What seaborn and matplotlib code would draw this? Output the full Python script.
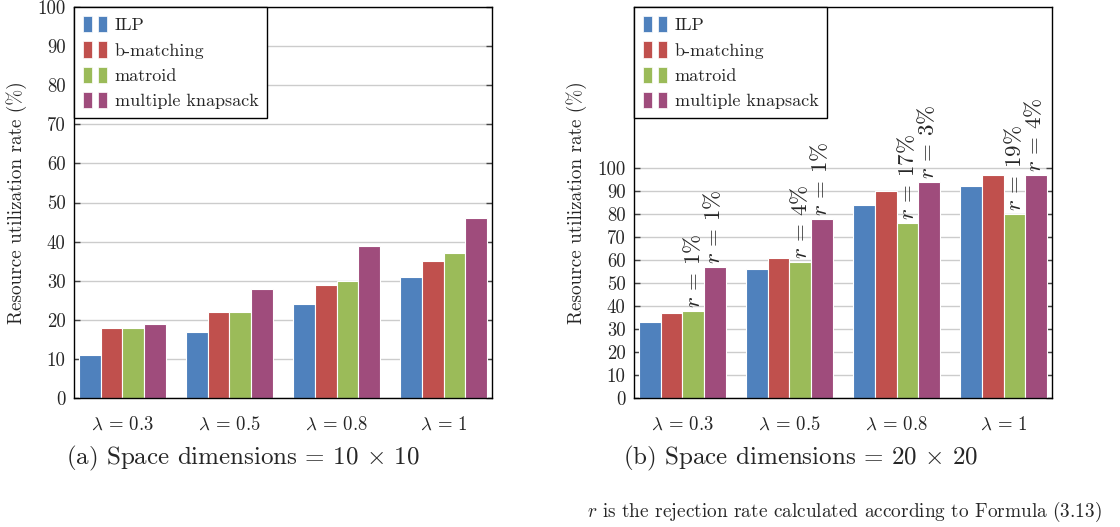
import matplotlib
matplotlib.use("Agg")
import matplotlib.pyplot as plt
import seaborn as sns
import pandas as pd
from matplotlib.patches import Rectangle
from matplotlib.legend_handler import HandlerTuple

# ---------------- data ----------------
groups = [r"$\lambda$ = 0.3", r"$\lambda$ = 0.5", r"$\lambda$ = 0.8", r"$\lambda$ = 1"]
methods = ["ILP", "b-matching", "matroid", "multiple knapsack"]

left_ilp = [11, 17, 24, 31]
left_bmatch = [18, 22, 29, 35]
left_matroid = [18, 22, 30, 37]
left_knap = [19, 28, 39, 46]

right_ilp = [33, 56, 84, 92]
right_bmatch = [37, 61, 90, 97]
right_matroid = [38, 59, 76, 80]
right_knap = [57, 78, 94, 97]

rej_matroid = ["1", "4", "17", "19"]
rej_knap = ["1", "1", "3", "4"]

colors = ["#4F81BD", "#C0504D", "#9BBB59", "#9F4C7C"]

sns.set_style("white")
plt.rcParams["font.family"] = ["cmr10", "DejaVu Serif"]
plt.rcParams["mathtext.fontset"] = "cm"
plt.rcParams["axes.unicode_minus"] = False


def long_df(series):
    rows = []
    for m, vals in zip(methods, series):
        for g, v in zip(groups, vals):
            rows.append({"group": g, "method": m, "value": v})
    return pd.DataFrame(rows)


fig = plt.figure(figsize=(11.2, 5.27), dpi=100)
W, H = 1120, 527
ax_l = fig.add_axes([74 / W, (H - 398) / H, 418 / W, 391 / H])
ax_r = fig.add_axes([634 / W, (H - 398) / H, 418 / W, 391 / H])


def style_axes(ax, df, ymax, yticks):
    sns.barplot(data=df, x="group", y="value", hue="method", palette=colors,
                ax=ax, width=0.81, edgecolor="white", linewidth=0.8,
                saturation=1, legend=False)
    ax.set_ylim(0, ymax)
    ax.set_xlim(-0.45, 3.45)
    ax.set_yticks(yticks)
    ax.set_xlabel("")
    ax.set_ylabel("Resource utilization rate (%)", fontsize=13.8)
    ax.yaxis.set_label_coords((27 - 74) / 418, (397 - 202) / 391)
    ax.yaxis.grid(True, color="#cccccc", linewidth=1.0)
    ax.set_axisbelow(True)
    for s in ax.spines.values():
        s.set_visible(True)
        s.set_color("black")
        s.set_linewidth(1.0)
    ax.tick_params(axis="y", direction="in", length=4, width=1, color="#444444",
                   labelsize=13.5, pad=6, left=True, right=True)
    ax.tick_params(axis="x", length=0, labelsize=13.5, pad=13)
    handles = [(Rectangle((0, 0), 1, 1, facecolor=c, edgecolor="white", lw=0.5),
                Rectangle((0, 0), 1, 1, facecolor=c, edgecolor="white", lw=0.5))
               for c in colors]
    leg = ax.legend(handles, methods, loc="upper left", bbox_to_anchor=(0, 1),
                    borderaxespad=0, fontsize=13, frameon=True, fancybox=False,
                    framealpha=1, edgecolor="black", handlelength=1.35,
                    handleheight=1.0, handletextpad=0.4, labelspacing=0.45,
                    borderpad=0.5,
                    handler_map={tuple: HandlerTuple(ndivide=None, pad=0.35)})
    leg.get_frame().set_linewidth(1.0)
    leg.set_zorder(5)


style_axes(ax_l, long_df([left_ilp, left_bmatch, left_matroid, left_knap]),
           100, range(0, 101, 10))
style_axes(ax_r, long_df([right_ilp, right_bmatch, right_matroid, right_knap]),
           170, range(0, 101, 10))

# rotated rejection annotations on right chart
for idx, labels, dx in [(2, rej_matroid, 0), (3, rej_knap, -2)]:
    for bar, lab in zip(ax_r.containers[idx], labels):
        ax_r.annotate(rf"$r$ = {lab}%",
                      (bar.get_x() + bar.get_width() / 2, bar.get_height()),
                      xytext=(dx, 3), textcoords="offset pixels",
                      rotation=90, ha="center", va="bottom", fontsize=16.5)

fig.text(243 / W, 1 - 458 / H, r"(a) Space dimensions = 10 $\times$ 10",
         ha="center", va="center", fontsize=18)
fig.text(801 / W, 1 - 458 / H, r"(b) Space dimensions = 20 $\times$ 20",
         ha="center", va="center", fontsize=18)
fig.text(1102 / W, 1 - 512 / H,
         r"$r$ is the rejection rate calculated according to Formula (3.13)",
         ha="right", va="center", fontsize=13.9)

fig.savefig("out.png", dpi=100)
